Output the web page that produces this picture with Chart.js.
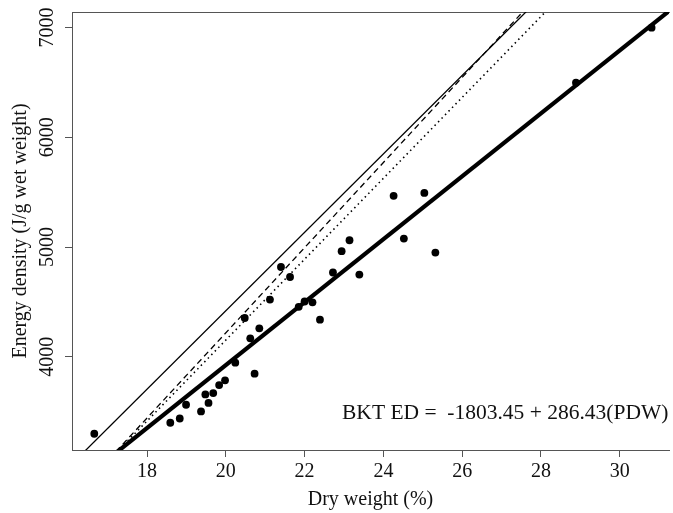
<!DOCTYPE html>
<html><head><meta charset="utf-8">
<script src="https://cdn.jsdelivr.net/npm/chart.js@4/dist/chart.umd.min.js"></script>
<style>html,body{margin:0;padding:0;background:#fff;overflow:hidden}
#wrap{width:673px;height:513px;position:relative}</style>
</head><body><div id="wrap"><canvas id="c"></canvas></div>
<script>
// Observed fish: dry weight (%) vs energy density (J/g wet weight)
const dryWeight = [16.66,18.59,18.83,18.99,19.37,19.48,19.56,19.68,19.83,19.98,20.24,20.48,20.62,20.73,20.85,21.12,21.40,21.63,21.85,22.00,22.20,22.39,22.72,22.94,23.14,23.39,24.26,24.52,25.04,25.32,28.89,30.81];
const energyDensity = [3300,3400,3439,3564,3503,3658,3581,3670,3743,3786,3947,4354,4169,3847,4260,4522,4818,4727,4456,4504,4497,4339,4768,4962,5062,4749,5466,5077,5493,4950,6496,6997];
const xTicks = [18,20,22,24,26,28,30];
const yTicks = [4000,5000,6000,7000];
// Regression lines: ED = intercept + slope * PDW
const lineNames = ['BKT','Line 2','Line 3','Line 4'];
const lineIntercepts = [-1803.45,-2720,-3533,-3211];
const lineSlopes = [286.43,357,387.6,368.2];
const lineExtent = [16,32];
const equationLabel = 'BKT ED =  -1803.45 + 286.43(PDW)';

const styles = [
  {w:4.2, dash:[]},
  {w:1.3, dash:[]},
  {w:1.3, dash:[6,4]},
  {w:1.6, dash:[1.5,3.5]}
];
const FONT = 'Liberation Serif';
const AX = '#555';

const lineSets = lineNames.map((n,i)=>({
  type:'line', label:n,
  data: lineExtent.map(x=>({x:x, y:lineIntercepts[i]+lineSlopes[i]*x})),
  borderColor:'#000', borderWidth:styles[i].w, borderDash:styles[i].dash,
  pointRadius:0, fill:false, clip:0, order:2, tension:0
}));

const eqPlugin = {
  id:'eq',
  afterDatasetsDraw(chart){
    const {ctx, scales:{x,y}} = chart;
    ctx.save();
    ctx.font = '21.5px "'+FONT+'"';
    ctx.fillStyle = '#111';
    ctx.textAlign = 'left';
    ctx.textBaseline = 'middle';
    ctx.fillText(equationLabel, x.getPixelForValue(22.95), y.getPixelForValue(3487));
    ctx.restore();
  }
};

new Chart(document.getElementById('c'), {
  data:{datasets:[
    {type:'scatter', label:'Observed', data: dryWeight.map((v,i)=>({x:v,y:energyDensity[i]})),
     backgroundColor:'#000', borderColor:'#000', borderWidth:0, pointRadius:3.9, order:1},
    ...lineSets
  ]},
  options:{
    responsive:true, maintainAspectRatio:false, animation:false,
    layout:{padding:{top:12,left:0,right:0,bottom:0}},
    plugins:{legend:{display:false}, tooltip:{enabled:false}},
    scales:{
      x:{type:'linear', position:'bottom', min:16.094, max:31.252,
        afterBuildTicks:s=>{s.ticks = xTicks.map(v=>({value:v}));},
        afterFit:s=>{s.height = 63;},
        ticks:{font:{family:FONT,size:20}, color:'#111', padding:3, maxRotation:0, autoSkip:false, callback:v=>String(v)},
        grid:{display:true, drawOnChartArea:false, drawTicks:true, tickLength:7, color:AX, lineWidth:1},
        border:{display:true, color:AX, width:1},
        title:{display:true, text:'Dry weight (%)', font:{family:FONT,size:20}, color:'#111', padding:{top:0,bottom:1}}
      },
      x2:{type:'linear', position:'top', min:16.094, max:31.252,
        afterFit:s=>{s.height = 0;},
        ticks:{display:false}, grid:{display:false, drawTicks:false},
        border:{display:true, color:AX, width:1}
      },
      y:{type:'linear', position:'left', min:3152, max:7140,
        afterBuildTicks:s=>{s.ticks = yTicks.map(v=>({value:v}));},
        afterFit:s=>{s.width = 72;},
        ticks:{font:{family:FONT,size:20}, color:'#111', padding:-3, minRotation:90, maxRotation:90, crossAlign:'center', autoSkip:false, callback:v=>String(v)},
        grid:{display:true, drawOnChartArea:false, drawTicks:true, tickLength:7, color:AX, lineWidth:1},
        border:{display:true, color:AX, width:1},
        title:{display:true, text:'Energy density (J/g wet weight)', font:{family:FONT,size:20}, color:'#111', padding:{top:9,bottom:0}}
      }
    }
  },
  plugins:[eqPlugin]
});
</script></body></html>
